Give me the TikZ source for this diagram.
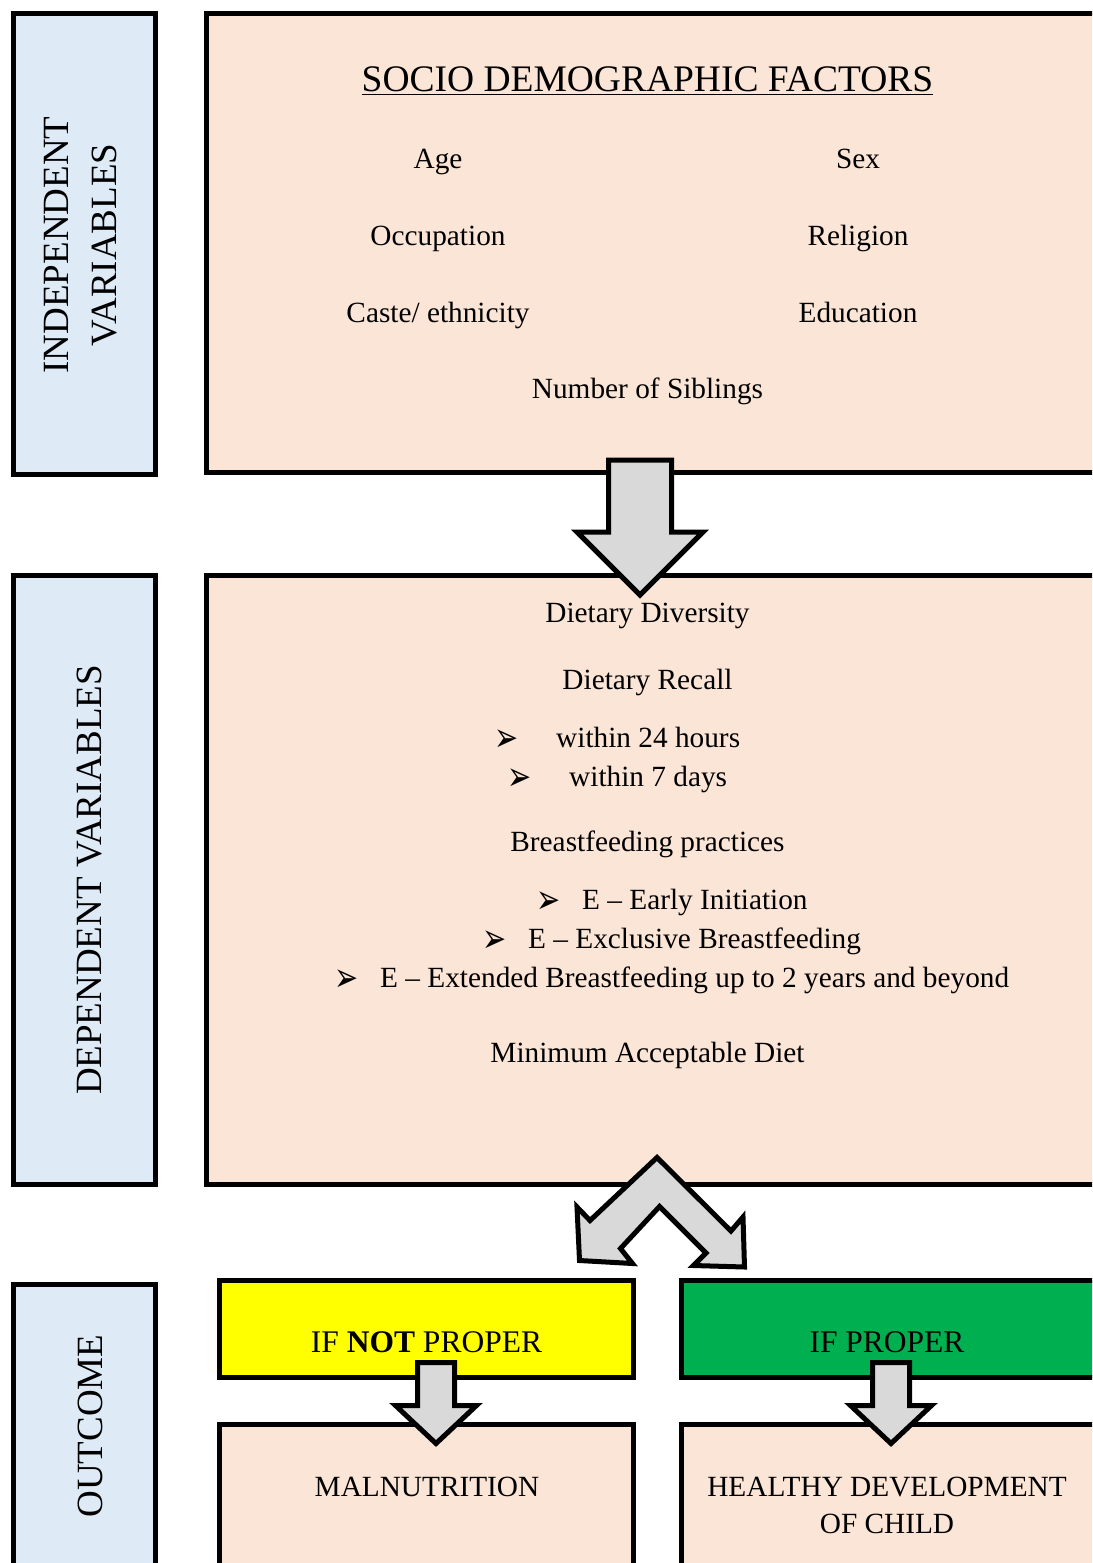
\documentclass[tikz,border=0pt]{standalone}
\usepackage{fontspec}
\setmainfont{Liberation Serif}
\newfontfamily\bulletfont{DejaVu Sans}
\usetikzlibrary{positioning}
\definecolor{sideblue}{HTML}{DEEBF7}
\definecolor{peach}{HTML}{FBE5D6}
\definecolor{ifyellow}{HTML}{FFFF00}
\definecolor{ifgreen}{HTML}{00B050}
\definecolor{arrowgray}{HTML}{D9D9D9}
\newcommand{\bul}{{\bulletfont\fontsize{24}{24}\selectfont\raisebox{-4pt}{\scalebox{1.2}[1.7]{➢}}}}

\tikzset{
  box/.style={draw, line width=5pt, inner sep=0pt, outer sep=0pt, anchor=north west},
  sidebox/.style={box, fill=sideblue},
  factorbox/.style={box, fill=peach},
  sidelabel/.style={font=\fontsize{37}{48}\selectfont, rotate=90, align=center},
  factor/.style={font=\fontsize{29.3}{35}\selectfont, text height=20pt, text depth=6pt, inner sep=0pt},
  outcome/.style={font=\fontsize{31.5}{37}\selectfont, align=center},
  blockarrow/.style={draw, line width=5pt, fill=arrowgray, line join=miter},
}

\begin{document}
\begin{tikzpicture}[x=1pt, y=-1pt, node distance=77pt and 420pt, on grid]
   \useasboundingbox (0,0) rectangle (1092,1563);
   \clip (0,0) rectangle (1092,1563);
   % boxes
   \node[sidebox, minimum width=142pt, minimum height=460pt] (indepside) at (13,14) {};
   \node[sidebox, minimum width=142pt, minimum height=609pt] (depside) at (13,575.5) {};
   \node[sidebox, minimum width=142pt, minimum height=320pt] (outside) at (13,1284) {};
   \node[factorbox, minimum width=900pt, minimum height=458pt] (socio) at (206.5,14) {};
   \node[factorbox, minimum width=900pt, minimum height=609pt] (diet) at (206.5,575.5) {};
   \node[box, fill=ifyellow, minimum width=414pt, minimum height=97.5pt] (notproper) at (219.5,1280) {};
   \node[box, fill=ifgreen, minimum width=420pt, minimum height=97.5pt] (proper) at (681.5,1280) {};
   \node[factorbox, minimum width=414pt, minimum height=200pt] (malbox) at (219.5,1424.5) {};
   \node[factorbox, minimum width=420pt, minimum height=200pt] (healthbox) at (681.5,1424.5) {};

   % side labels
   \node[sidelabel] (indeplabel) at (81,245) {INDEPENDENT\\VARIABLES};
   \node[sidelabel] (deplabel) at (90,880) {DEPENDENT VARIABLES};
   \node[sidelabel] (outlabel) at (90,1426) {OUTCOME};

   % socio demographic factors
   \node[font=\fontsize{37.5}{42}\selectfont, anchor=base] (title) at (647.5,92) {\underline{SOCIO DEMOGRAPHIC FACTORS}};
   \node[factor] (age) at (438,161) {Age};
   \node[factor] (sex) [right=of age] {Sex};
   \node[factor] (occupation) [below=of age] {Occupation};
   \node[factor] (religion) [below=of sex] {Religion};
   \node[factor] (caste) [below=of occupation] {Caste/ ethnicity};
   \node[factor] (education) [below=of religion] {Education};
   \node[factor] (siblings) at (647.5,391.5) {Number of Siblings};

   % dietary factors
   \node[factor] (diversity) at (647.5,615.5) {Dietary Diversity};
   \node[factor] (recall) [below=67pt of diversity] {Dietary Recall};
   \node[factor, anchor=west] (hours) at (494,740.5) {\makebox[62pt][l]{\bul}within 24 hours};
   \node[factor, anchor=west] (days) at (507,779.5) {\makebox[62pt][l]{\bul}within 7 days};
   \node[factor] (breastfeeding) [below=162pt of recall] {Breastfeeding practices};
   \node[factor, anchor=west] (early) at (536,902.5) {\makebox[46pt][l]{\bul}E -- Early Initiation};
   \node[factor, anchor=west] (exclusive) at (482,941.5) {\makebox[46pt][l]{\bul}E -- Exclusive Breastfeeding};
   \node[factor, anchor=west] (extended) at (334,980.5) {\makebox[46pt][l]{\bul}E -- Extended Breastfeeding up to 2 years and beyond};
   \node[factor] (mad) [below=211pt of breastfeeding] {Minimum Acceptable Diet};

   % outcomes
   \node[outcome, anchor=base] (notproperlabel) at (426.5,1352) {IF \textbf{NOT} PROPER};
   \node[outcome, anchor=base] (properlabel) at (887,1352) {IF PROPER};
   \node[factor] (malnutrition) at (427,1489.5) {MALNUTRITION};
   \node[factor, font=\fontsize{29.3}{37}\selectfont, align=center, text height=, text depth=] (healthy) at (887,1505) {HEALTHY DEVELOPMENT\\OF CHILD};

   % block arrows
   \draw[blockarrow] (608.5,460) -- (671.5,460) -- (671.5,532) -- (703,532)
      -- (640,595) -- (577,532) -- (608.5,532) -- cycle;
   \draw[blockarrow] (657,1157.5) -- (731,1231) -- (743,1217) -- (744.5,1267)
      -- (693.5,1265.5) -- (706,1253) -- (659.5,1206.5) -- (620.5,1248.5)
      -- (632.5,1263.5) -- (579.5,1260.5) -- (577,1207) -- (590,1220.5) -- cycle;
   \draw[blockarrow] (417.5,1362.5) -- (454.5,1362.5) -- (454.5,1405.5) -- (476.5,1405.5)
      -- (436,1443.5) -- (395.5,1405.5) -- (417.5,1405.5) -- cycle;
   \draw[blockarrow] (872.5,1362.5) -- (909.5,1362.5) -- (909.5,1405.5) -- (931.5,1405.5)
      -- (891,1443.5) -- (850.5,1405.5) -- (872.5,1405.5) -- cycle;
\end{tikzpicture}
\end{document}
